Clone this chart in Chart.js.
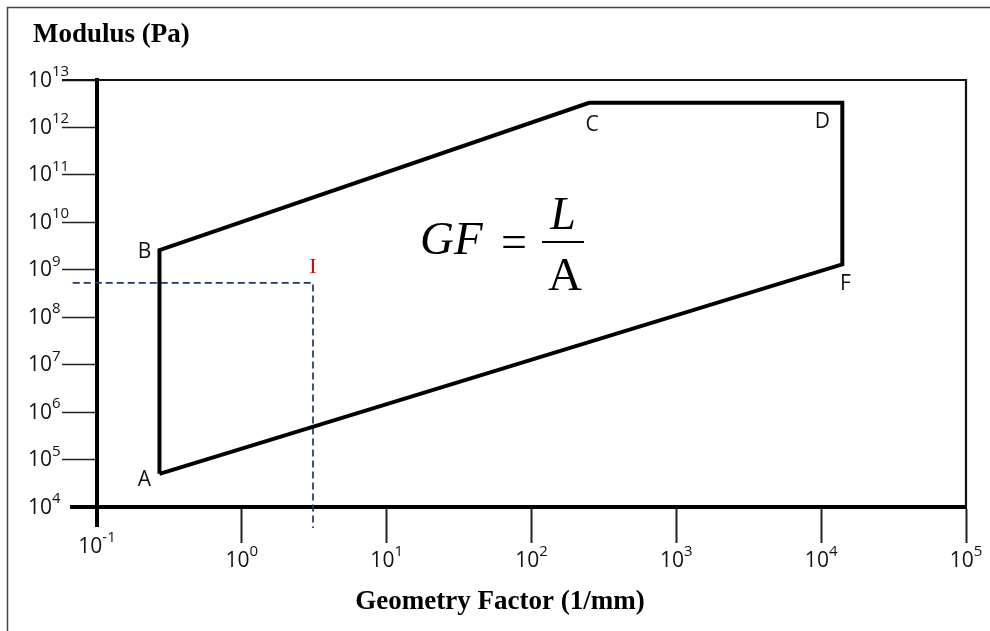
<!DOCTYPE html>
<html lang="en">
<head>
<meta charset="UTF-8">
<title>Modulus vs Geometry Factor</title>
<script src="https://cdn.jsdelivr.net/npm/chart.js"></script>
<style>
  body { margin: 0; background: #fff; overflow: hidden; }
  #chart { display: block; }
</style>
</head>
<body>
<canvas id="chart" width="990" height="631"></canvas>
<script>
// corners of the region, in drawing order (closed back to A)
const cornerNames = ['A', 'B', 'C', 'D', 'F'];
const geometryFactor = [0.27, 0.27, 250, 14000, 14000];    // 1/mm
const modulus = [5e4, 2.6e9, 3.3e12, 3.3e12, 1.3e9];       // Pa

// dashed guide lines to point I
const guideGF = [0.068, 3.1, 3.1];
const guideModulus = [5.3e8, 5.3e8, 3.6e3];
const pointI = { x: 3.1, y: 5.3e8 };

// decades shown on each axis
const xExponents = [-1, 0, 1, 2, 3, 4, 5];
const yExponents = [4, 5, 6, 7, 8, 9, 10, 11, 12, 13];

// where each corner letter sits relative to its corner (px)
const cornerOffsets = { A: [-15, 6], B: [-15, 2], C: [3, 22], D: [-20, 19], F: [3, 20] };

const sans = '"Open Sans", sans-serif';
const serif = '"Liberation Serif", "Times New Roman", serif';

const outline = cornerNames.map((n, i) => ({ x: geometryFactor[i], y: modulus[i] }));
outline.push(outline[0]);
const guide = guideGF.map((x, i) => ({ x: x, y: guideModulus[i] }));

// "10" with a raised exponent
function powerLabel(ctx, exp, x, y, align) {
    ctx.font = '21px ' + sans;
    const base = ctx.measureText('10').width;
    ctx.font = '15px ' + sans;
    const sup = ctx.measureText(String(exp)).width;
    let left = x;
    if (align === 'center') left = x - (base + sup) / 2;
    ctx.textAlign = 'left';
    ctx.textBaseline = 'alphabetic';
    ctx.fillStyle = '#111';
    ctx.font = '21px ' + sans;
    ctx.fillText('10', left, y + 7.5);
    ctx.font = '15px ' + sans;
    ctx.fillText(String(exp), left + base, y - 3);
}

const decorations = {
    id: 'decorations',
    afterDraw(chart) {
        const ctx = chart.ctx;
        const area = chart.chartArea;
        const xs = chart.scales.x;
        const ys = chart.scales.y;
        ctx.save();

        // outer picture border
        ctx.strokeStyle = '#444';
        ctx.lineWidth = 1.5;
        ctx.beginPath();
        ctx.moveTo(7.5, 631);
        ctx.lineTo(7.5, 7.5);
        ctx.lineTo(990, 7.5);
        ctx.stroke();

        // top and right frame
        ctx.strokeStyle = '#111';
        ctx.lineWidth = 2.2;
        ctx.beginPath();
        ctx.moveTo(62, area.top);
        ctx.lineTo(area.right, area.top);
        ctx.lineTo(area.right, area.bottom);
        ctx.stroke();

        // thick axes run a little past the origin
        ctx.strokeStyle = '#000';
        ctx.lineWidth = 4;
        ctx.beginPath();
        ctx.moveTo(70, area.bottom);
        ctx.lineTo(area.left, area.bottom);
        ctx.moveTo(area.left, area.bottom);
        ctx.lineTo(area.left, area.bottom + 20);
        ctx.stroke();

        // tick labels
        yExponents.forEach(e => {
            powerLabel(ctx, e, 28, ys.getPixelForValue(Math.pow(10, e)) - 1, 'left');
        });
        xExponents.forEach((e, i) => {
            const y = i === 0 ? 545 : 559;
            powerLabel(ctx, e, xs.getPixelForValue(Math.pow(10, e)), y, 'center');
        });

        // axis titles
        ctx.fillStyle = '#000';
        ctx.font = 'bold 27px ' + serif;
        ctx.textAlign = 'left';
        ctx.fillText('Modulus (Pa)', 33, 42);
        ctx.textAlign = 'center';
        ctx.fillText('Geometry Factor (1/mm)', 500, 609);

        // corner letters
        const meta = chart.getDatasetMeta(0);
        ctx.font = '21px ' + sans;
        ctx.textBaseline = 'middle';
        ctx.fillStyle = '#111';
        cornerNames.forEach((n, i) => {
            const p = meta.data[i];
            ctx.fillText(n, p.x + cornerOffsets[n][0], p.y + cornerOffsets[n][1]);
        });

        // point I
        ctx.fillStyle = '#e00000';
        ctx.font = '22px ' + serif;
        ctx.fillText('I', xs.getPixelForValue(pointI.x), ys.getPixelForValue(pointI.y) - 16);

        // GF = L / A
        ctx.fillStyle = '#000';
        ctx.textBaseline = 'alphabetic';
        ctx.textAlign = 'left';
        ctx.font = 'italic 47px ' + serif;
        ctx.fillText('GF', 420, 254);
        ctx.font = '46px ' + serif;
        ctx.fillText('=', 501, 257);
        ctx.lineWidth = 2;
        ctx.beginPath();
        ctx.moveTo(542, 242);
        ctx.lineTo(584, 242);
        ctx.stroke();
        ctx.textAlign = 'center';
        ctx.font = 'italic 46px ' + serif;
        ctx.fillText('L', 563, 229);
        ctx.font = '47px ' + serif;
        ctx.fillText('A', 565, 290);

        ctx.restore();
    }
};

new Chart(document.getElementById('chart'), {
    type: 'scatter',
    data: {
        datasets: [
            {
                data: outline,
                showLine: true,
                borderColor: '#000',
                borderWidth: 4,
                borderJoinStyle: 'miter',
                pointRadius: 0,
                tension: 0,
                fill: false
            },
            {
                data: guide,
                showLine: true,
                borderColor: '#1f3864',
                borderWidth: 1.7,
                borderDash: [7, 4],
                pointRadius: 0,
                fill: false,
                clip: false
            }
        ]
    },
    options: {
        responsive: false,
        animation: false,
        layout: { padding: { left: 62, right: 24, top: 80, bottom: 88 } },
        plugins: {
            legend: { display: false },
            tooltip: { enabled: false }
        },
        scales: {
            x: {
                type: 'logarithmic',
                min: 0.1,
                max: 1e5,
                afterBuildTicks: s => { s.ticks = xExponents.map(e => ({ value: Math.pow(10, e) })); },
                ticks: { display: false },
                grid: {
                    drawOnChartArea: false,
                    tickLength: 36,
                    tickWidth: 2,
                    tickColor: c => c.index === 0 ? 'rgba(0,0,0,0)' : '#222'
                },
                border: { width: 4, color: '#000' }
            },
            y: {
                type: 'logarithmic',
                min: 1e4,
                max: 1e13,
                afterBuildTicks: s => { s.ticks = yExponents.map(e => ({ value: Math.pow(10, e) })); },
                ticks: { display: false },
                grid: {
                    drawOnChartArea: false,
                    tickLength: 35,
                    tickWidth: 1.7,
                    tickColor: c => c.index === 0 ? 'rgba(0,0,0,0)' : '#222'
                },
                border: { width: 4, color: '#000' }
            }
        }
    },
    plugins: [decorations]
});
</script>
</body>
</html>
